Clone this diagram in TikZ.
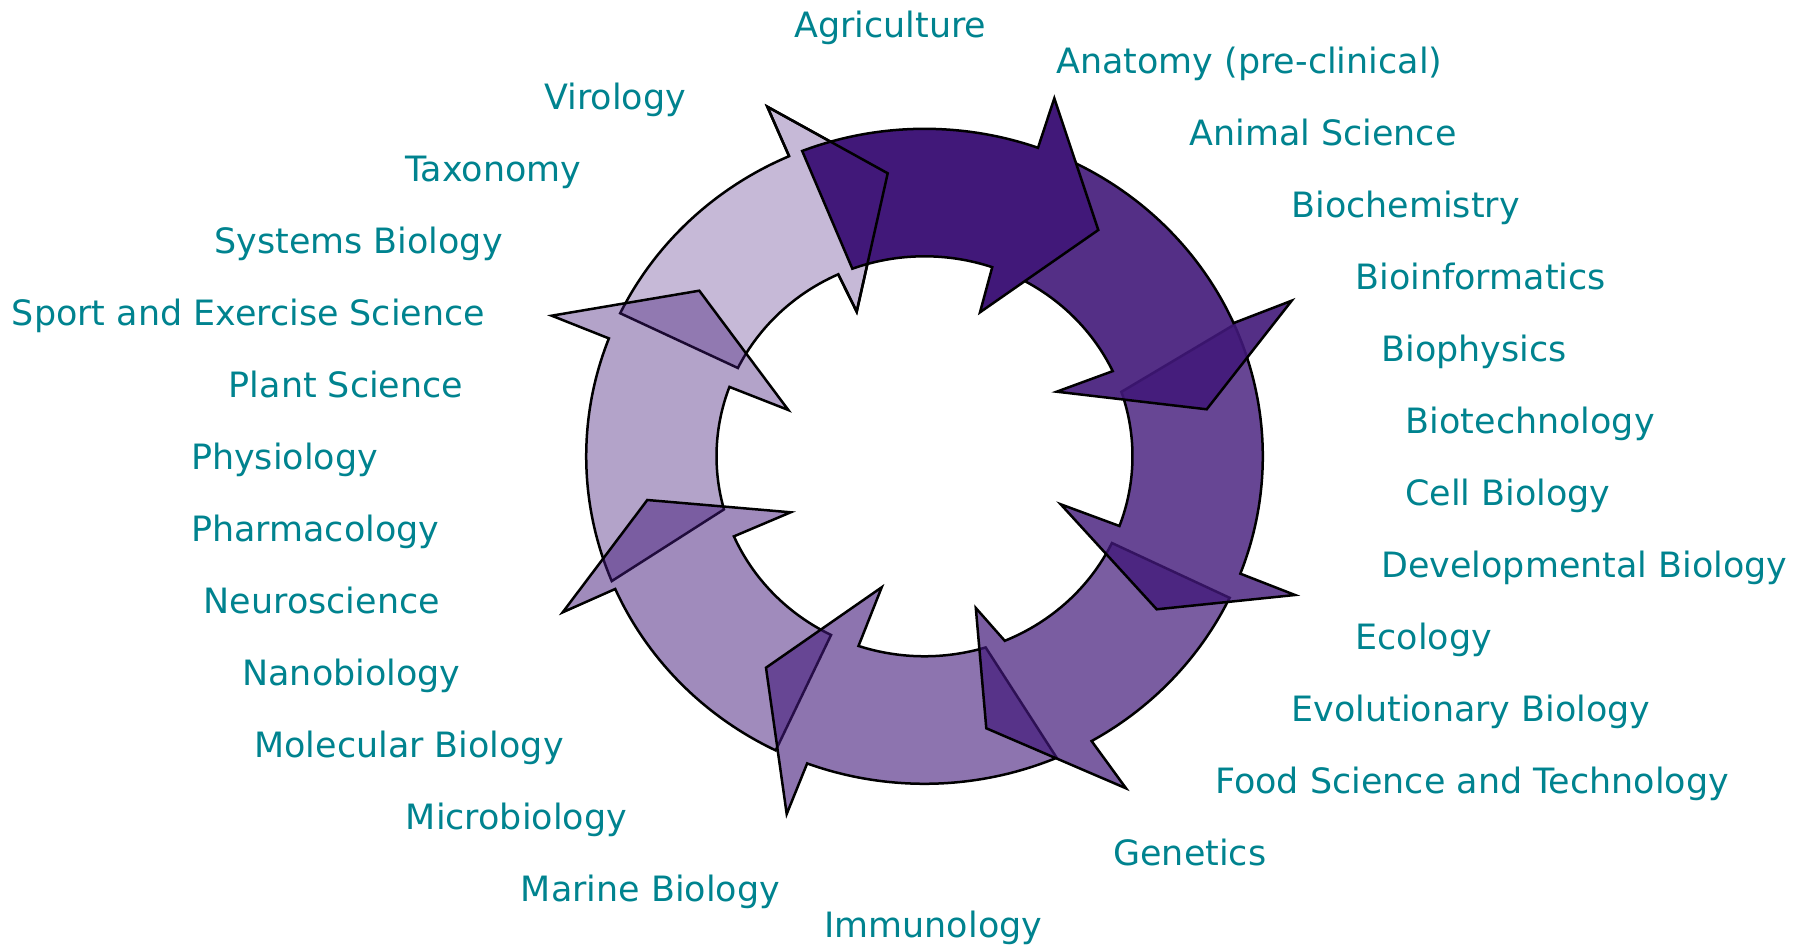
\documentclass[tikz,border=0pt]{standalone}
\usepackage{fontspec}
\setmainfont{DejaVu Sans}
\definecolor{arrowpurple}{RGB}{65,24,121}
\definecolor{labelteal}{RGB}{0,131,143}
% #1 tail outer angle, #2 head-base outer angle, #3 outer barb, #4 tip, #5 inner barb,
% #6 head-base inner angle, #7 tail inner angle, #8 fill opacity
\newcommand{\ringarrow}[8]{%
  \path[arrowshape, fill opacity=#8]
    ([shift={(C)}]#1:338.3 and 327.5)
    arc[start angle=#1, end angle=#2, x radius=338.3, y radius=327.5]
    -- #3 -- #4 -- #5
    -- ([shift={(C)}]#6:208 and 200)
    arc[start angle=#6, end angle=#7, x radius=208, y radius=200]
    -- cycle;}
\begin{document}
\begin{tikzpicture}[x=0.5pt,y=0.5pt,
  arrowshape/.style={draw=black, line width=1.25pt, fill=arrowpurple, line join=miter},
  outline/.style={draw=black, line width=1.25pt, line join=miter},
  lbl/.style={anchor=base west, inner sep=0pt, text=labelteal, font=\fontsize{17.45}{20}\selectfont}]
\useasboundingbox (0,0) rectangle (1798,-945);
\coordinate (C) at (924.5,-456.3);

% arrows, lightest first
\ringarrow{154.1}{113.6}{(767.3,-106.7)}{(887.7,-173.3)}{(856.7,-311.7)}{114.5}{153.8}{0.3}
\ringarrow{-157.6}{-201.1}{(551.7,-315.7)}{(699.3,-290.7)}{(788.3,-410)}{-200.3}{-164.6}{0.4}
\ringarrow{-116.1}{-156.1}{(562.7,-612.3)}{(647.3,-500)}{(790.7,-512.3)}{-156.4}{-116.7}{0.5}
\ringarrow{-67}{-110.3}{(786.7,-814)}{(766,-667.7)}{(881.7,-587.3)}{-108.5}{-72.9}{0.6}
\ringarrow{-25.6}{-60.4}{(1126,-788.3)}{(986.3,-728.3)}{(975.8,-608)}{-67.3}{-25.7}{0.7}
\ringarrow{23.7}{-21}{(1295,-595)}{(1156.7,-609.3)}{(1060.7,-504.3)}{-20.4}{18.8}{0.8}
\ringarrow{66}{24}{(1291.7,-300.7)}{(1206.7,-409.3)}{(1056.7,-391.7)}{25.2}{66}{0.9}
\ringarrow{111.2}{70.4}{(1054.3,-98.3)}{(1098.3,-230)}{(980,-312.3)}{71}{110.3}{1}
% outline of the lightest head, visible through the darkest arrow
\path[outline]
  ([shift={(C)}]113.6:338.3 and 327.5) -- (767.3,-106.7) -- (887.7,-173.3)
  -- (856.7,-311.7) -- ([shift={(C)}]114.5:208 and 200);

% labels
\node[lbl] (l0)  at (794,-37.5)    {Agriculture};
\node[lbl] (l1)  at (1056,-73.5)   {Anatomy (pre-clinical)};
\node[lbl] (l2)  at (544,-109.5)   {Virology};
\node[lbl] (l3)  at (1189,-145.5)  {Animal Science};
\node[lbl] (l4)  at (405,-181.5)   {Taxonomy};
\node[lbl] (l5)  at (1291,-217.5)  {Biochemistry};
\node[lbl] (l6)  at (214,-253.5)   {Systems Biology};
\node[lbl] (l7)  at (1355,-289.5)  {Bioinformatics};
\node[lbl] (l8)  at (11.5,-325.5)  {Sport and Exercise Science};
\node[lbl] (l9)  at (1381,-361.5)  {Biophysics};
\node[lbl] (l10) at (228.5,-397.5) {Plant Science};
\node[lbl] (l11) at (1405.5,-433.5){Biotechnology};
\node[lbl] (l12) at (190.6,-469.5) {Physiology};
\node[lbl] (l13) at (1405,-505.5)  {Cell Biology};
\node[lbl] (l14) at (190.8,-541.5) {Pharmacology};
\node[lbl] (l15) at (1381,-577.5)  {Developmental Biology};
\node[lbl] (l16) at (203.4,-613.5) {Neuroscience};
\node[lbl] (l17) at (1355,-649.5)  {Ecology};
\node[lbl] (l18) at (242,-685.5)   {Nanobiology};
\node[lbl] (l19) at (1291,-721.5)  {Evolutionary Biology};
\node[lbl] (l20) at (254,-757.5)   {Molecular Biology};
\node[lbl] (l21) at (1215,-793.5)  {Food Science and Technology};
\node[lbl] (l22) at (405.5,-829.5) {Microbiology};
\node[lbl] (l23) at (1113,-865.5)  {Genetics};
\node[lbl] (l24) at (520.5,-901.5) {Marine Biology};
\node[lbl] (l25) at (824,-937.5)   {Immunology};
\end{tikzpicture}
\end{document}
